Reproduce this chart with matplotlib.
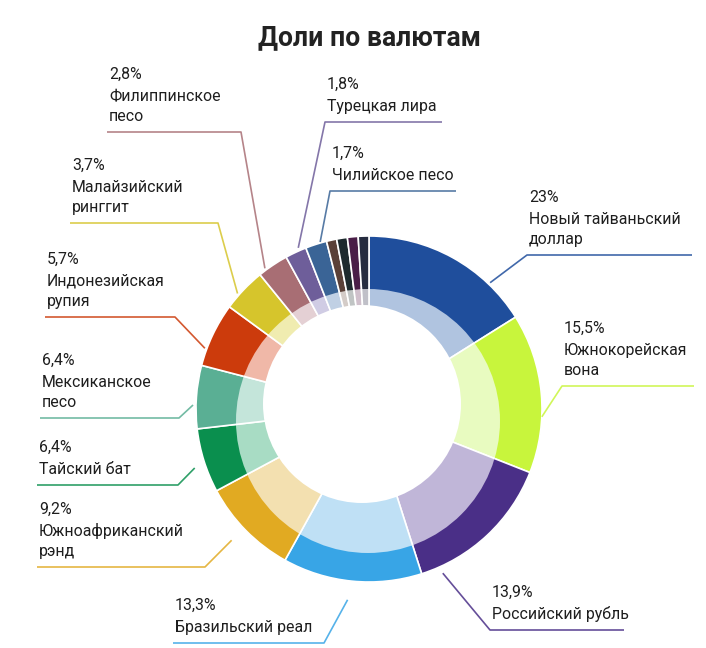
import numpy as np
import matplotlib.pyplot as plt
from matplotlib.patches import Circle

plt.rcParams['font.family'] = ['Roboto', 'DejaVu Sans']

W, H = 706, 648

# currencies in pie order (clockwise from the top)
currencies = ["Новый тайваньский\nдоллар", "Южнокорейская\nвона", "Российский рубль",
              "Бразильский реал", "Южноафриканский\nрэнд", "Тайский бат",
              "Мексиканское\nпесо", "Индонезийская\nрупия", "Малайзийский\nринггит",
              "Филиппинское\nпесо", "Турецкая лира", "Чилийское песо", "", "", "", ""]
pct_text = ["23%", "15,5%", "13,9%", "13,3%", "9,2%", "6,4%", "6,4%", "5,7%",
            "3,7%", "2,8%", "1,8%", "1,7%", "", "", "", ""]
# slice sizes as drawn in the picture
shares = [16.1, 14.9, 14.1, 13.0, 9.1, 6.0, 5.9, 6.0, 4.1, 2.9, 2.0, 2.0,
          0.95, 1.0, 1.0, 1.0]

dark_colors = ["#1f4e9c", "#c8f53c", "#4a2f87", "#38a5e6", "#e1aa22", "#0a8f4e",
               "#5aaf94", "#cc3b0c", "#d6c52c", "#a86e74", "#6e5e9a", "#3a6496",
               "#5a4038", "#1e2a2e", "#4a1e48", "#262c40"]
light_colors = ["#b0c4e0", "#e8fbc0", "#c0b6d8", "#bfe0f5", "#f3e0b0", "#a8dcc4",
                "#c4e5da", "#f0b8a8", "#f0ecb0", "#e4d0d4", "#d0cce4", "#c0d0e4",
                "#d4ccc8", "#c0c4c4", "#d0c0cc", "#c0c0c8"]

# leader layout: (anchor angle, anchor radius, elbow x, elbow y, end x) in pixels
leaders = [(46.2, 175, 527, 255, 692), (-2.6, 173, 562, 386, 694),
           (-65.8, 180, 490, 630, 624), (-96.4, 192, 324, 643, 173),
           (-136.3, 190, 205, 567, 37), (-161.3, 184, 178, 485, 37),
           (178.7, 176, 179, 418, 40), (159.7, 175, 175, 317, 45),
           (138.7, 175, 218, 223, 70), (126.5, 175, 241, 132, 107),
           (113.7, 176, 325, 122, 442), (106.3, 174, 330, 191, 456)]

cx, cy = 369, H - 409
R = 173

fig = plt.figure(figsize=(7.06, 6.48), dpi=100)
ax = fig.add_axes([0, 0, 1, 1])

wedges, _ = ax.pie(shares, colors=dark_colors, startangle=90, counterclock=False,
                   center=(cx, cy), radius=R,
                   wedgeprops=dict(edgecolor='white', linewidth=1.2))

inner, _ = ax.pie(shares, colors=light_colors, startangle=90, counterclock=False,
                  center=(cx, cy), radius=150,
                  wedgeprops=dict(edgecolor='white', linewidth=1.2))

ax.set_xlim(0, W)
ax.set_ylim(0, H)
ax.set_aspect('equal')
ax.axis('off')

# the light ring sits on a circle shifted a bit down from the outer one
clip = Circle((368, H - 421), 132, facecolor='none', edgecolor='none')
ax.add_patch(clip)
for w in inner:
    w.set_clip_on(True)
    w.set_clip_path(clip)

ax.add_patch(Circle((362, H - 404), 99, facecolor='white', edgecolor='none', zorder=5))

for i, (ang, r, ex, ey, xe) in enumerate(leaders):
    a = np.deg2rad(ang)
    sx, sy = cx + r * np.cos(a), cy + r * np.sin(a)
    ax.plot([sx, ex, xe], [sy, H - ey, H - ey], color=dark_colors[i], lw=1.2,
            alpha=0.85, solid_capstyle='butt')
    lines = [pct_text[i]] + currencies[i].split("\n")
    tx = min(ex, xe) + 2
    base = H - ey + 11
    ys = []
    for k in range(len(lines) - 1, -1, -1):
        ys.insert(0, base)
        base += 20 if k > 1 else 22
    for txt, yy in zip(lines, ys):
        ax.text(tx, yy, txt, fontsize=11.4, color='#1e1e1e', ha='left', va='baseline')

ax.text(369, H - 45, "Доли по валютам", fontsize=19.2, fontweight='bold',
        color='#222222', ha='center', va='baseline')

fig.savefig("out.png", dpi=100, facecolor='white')
